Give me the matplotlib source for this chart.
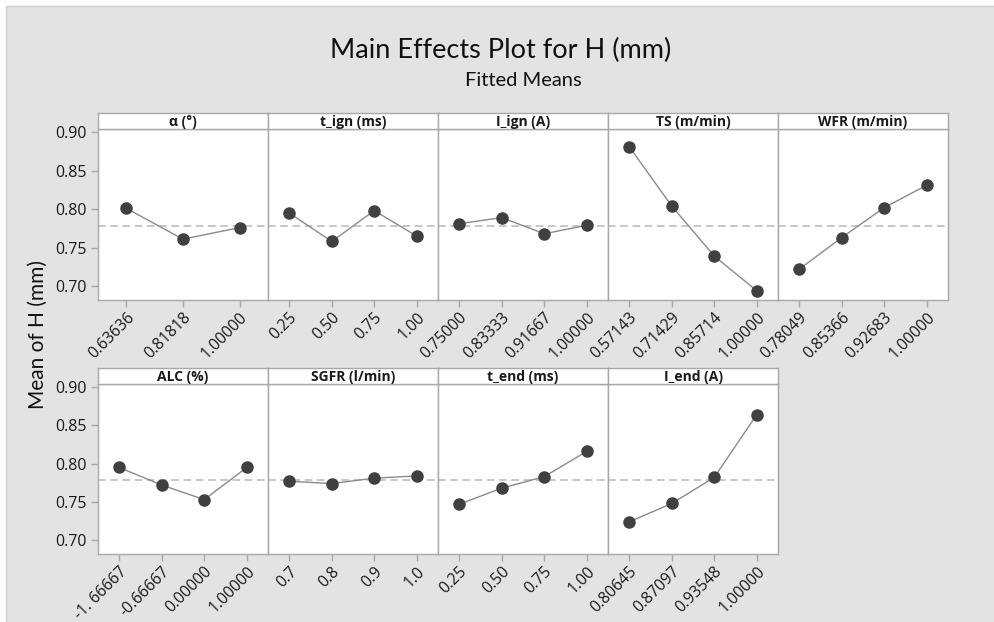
import matplotlib
matplotlib.use("Agg")
import matplotlib.pyplot as plt
from matplotlib.patches import Rectangle

plt.rcParams['font.family'] = ['Open Sans', 'DejaVu Sans']

factors = ["α (°)", "t_ign (ms)", "I_ign (A)", "TS (m/min)", "WFR (m/min)",
           "ALC (%)", "SGFR (l/min)", "t_end (ms)", "I_end (A)"]

levels = [
    ["0.63636", "0.81818", "1.00000"],
    ["0.25", "0.50", "0.75", "1.00"],
    ["0.75000", "0.83333", "0.91667", "1.00000"],
    ["0.57143", "0.71429", "0.85714", "1.00000"],
    ["0.78049", "0.85366", "0.92683", "1.00000"],
    ["-1. 66667", "-0.66667", "0.00000", "1.00000"],
    ["0.7", "0.8", "0.9", "1.0"],
    ["0.25", "0.50", "0.75", "1.00"],
    ["0.80645", "0.87097", "0.93548", "1.00000"],
]

means = [
    [0.801, 0.761, 0.776],
    [0.795, 0.758, 0.798, 0.765],
    [0.781, 0.789, 0.768, 0.779],
    [0.881, 0.804, 0.739, 0.694],
    [0.722, 0.763, 0.802, 0.831],
    [0.795, 0.772, 0.753, 0.795],
    [0.777, 0.774, 0.781, 0.784],
    [0.747, 0.768, 0.783, 0.816],
    [0.724, 0.748, 0.782, 0.864],
]

grand_mean = 0.778
yticks = [0.70, 0.75, 0.80, 0.85, 0.90]

W, H = 994, 622
fig = plt.figure(figsize=(W / 100, H / 100), dpi=100)
fig.patch.set_facecolor("white")

# gray backdrop like Minitab graph region
bg = Rectangle((6 / W, -0.01), 1 - 6 / W + 0.01, 1 - 6 / H + 0.01, transform=fig.transFigure,
               facecolor="#e3e3e3", edgecolor="#d0d0d0", lw=1, zorder=-10)
fig.patches.append(bg)

fig.text(501 / W, 1 - 50 / H, "Main Effects Plot for H (mm)", ha="center", va="center",
         fontsize=19.5, color="#111111", family=["Lato", "DejaVu Sans"])
fig.text(523 / W, 1 - 81 / H, "Fitted Means", ha="center", va="center",
         fontsize=14.5, color="#111111", family=["Lato", "DejaVu Sans"])
fig.text(38 / W, 1 - 335 / H, "Mean of H (mm)", ha="center", va="center",
         rotation=90, fontsize=15, color="#111111", family=["Lato", "DejaVu Sans"])

x0 = 98
pw = 170
rows = [(129, 300, 113), (384, 554, 368)]
edge = "#a8a8a8"

for i, (name, labs, vals) in enumerate(zip(factors, levels, means)):
    r = 0 if i < 5 else 1
    c = i if i < 5 else i - 5
    top, bot, stop = rows[r]
    left = x0 + c * pw
    ax = fig.add_axes([left / W, 1 - bot / H, pw / W, (bot - top) / H])
    ax.set_facecolor("white")
    n = len(vals)
    xs = list(range(n))
    ax.axhline(grand_mean, color="#b8b8b8", lw=1.1, ls=(0, (5, 3)), zorder=1)
    ax.plot(xs, vals, color="#8a8a8a", lw=1, zorder=2)
    ax.plot(xs, vals, "o", color="#404040", ms=8, zorder=3)
    ax.set_xlim(-0.5, n - 0.5)
    ax.set_ylim(0.682, 0.904)
    ax.set_xticks(xs)
    ax.set_xticklabels(labs, rotation=45, ha="right", rotation_mode="anchor",
                       fontsize=11.3, color="#1a1a1a")
    ax.set_yticks(yticks)
    if c == 0:
        ax.set_yticklabels(["%.2f" % v for v in yticks], fontsize=11.5, color="#1a1a1a")
    else:
        ax.tick_params(axis="y", left=False, labelleft=False)
    ax.tick_params(axis="both", color=edge, length=5, width=1, pad=2)
    ax.tick_params(axis="y", pad=3)
    for s in ax.spines.values():
        s.set_color(edge)
        s.set_linewidth(1)

    sx = fig.add_axes([left / W, 1 - top / H, pw / W, (top - stop) / H])
    sx.set_facecolor("white")
    sx.set_xticks([])
    sx.set_yticks([])
    for s in sx.spines.values():
        s.set_color(edge)
        s.set_linewidth(1)
    sx.text(0.5, 0.45, name, ha="center", va="center", fontsize=10,
            fontweight="bold", color="#1a1a1a", transform=sx.transAxes)

fig.savefig("out.png", dpi=100)
